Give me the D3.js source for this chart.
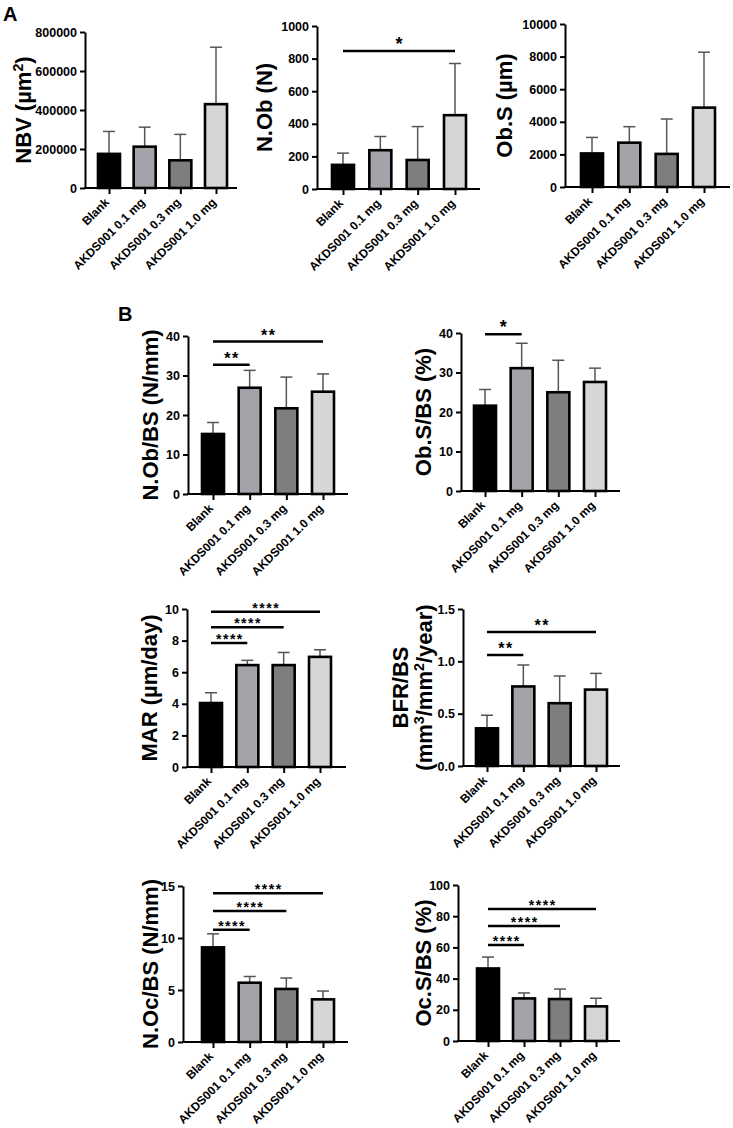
<!DOCTYPE html>
<html>
<head>
<meta charset="utf-8">
<script src="https://cdn.jsdelivr.net/npm/d3@7"></script>
<style>
  html, body { margin: 0; padding: 0; background: #fff; }
  svg { display: block; }
  text { font-family: "Liberation Sans", Arial, sans-serif; font-weight: bold; fill: #000; }
</style>
</head>
<body>
<svg id="fig" width="733" height="1128"></svg>
<script>
// ---------- data ----------
const groups = ["Blank", "AKDS001 0.1 mg", "AKDS001 0.3 mg", "AKDS001 1.0 mg"];
const groupColors = ["#000000", "#a3a3aa", "#7e7e7e", "#d6d6d6"];

const nbvMean = [175000, 212000, 142000, 430000];
const nbvSD   = [115000, 100000, 133000, 292000];
const nbvTicks = [0, 200000, 400000, 600000, 800000];
const nbvSig = [];

const nobMean = [148, 238, 178, 453];
const nobSD   = [72, 84, 205, 317];
const nobTicks = [0, 200, 400, 600, 800, 1000];
const nobSig = [[0, 3, 847, "*"]];

const obsMean = [2060, 2720, 2030, 4870];
const obsSD   = [980, 980, 2140, 3400];
const obsTicks = [0, 2000, 4000, 6000, 8000, 10000];
const obsSig = [];

const nobbsMean = [15.2, 26.9, 21.7, 25.9];
const nobbsSD   = [2.9, 4.4, 7.9, 4.5];
const nobbsTicks = [0, 10, 20, 30, 40];
const nobbsSig = [[0, 1, 32.7, "**"], [0, 3, 38.6, "**"]];

const obsbsMean = [21.6, 31.1, 25.0, 27.6];
const obsbsSD   = [4.1, 6.3, 8.1, 3.5];
const obsbsTicks = [0, 10, 20, 30, 40];
const obsbsSig = [[0, 1, 39.7, "*"]];

const marMean = [4.05, 6.45, 6.45, 6.97];
const marSD   = [0.65, 0.30, 0.80, 0.45];
const marTicks = [0, 2, 4, 6, 8, 10];
const marSig = [[0, 1, 7.85, "****"], [0, 2, 8.85, "****"], [0, 3, 9.82, "****"]];

const bfrMean = [0.36, 0.76, 0.60, 0.73];
const bfrSD   = [0.125, 0.205, 0.26, 0.155];
const bfrTicks = [0, 0.5, 1.0, 1.5];
const bfrSig = [[0, 1, 1.06, "**"], [0, 3, 1.28, "**"]];

const nocMean = [9.1, 5.7, 5.1, 4.1];
const nocSD   = [1.3, 0.6, 1.05, 0.8];
const nocTicks = [0, 5, 10, 15];
const nocSig = [[0, 1, 10.8, "****"], [0, 2, 12.6, "****"], [0, 3, 14.3, "****"]];

const ocsMean = [46.5, 27.3, 26.9, 22.2];
const ocsSD   = [7.3, 3.5, 6.4, 5.2];
const ocsTicks = [0, 20, 40, 60, 80, 100];
const ocsSig = [[0, 1, 61.5, "****"], [0, 2, 73.7, "****"], [0, 3, 84.6, "****"]];

// ---------- layout ----------
const charts = [
  { mean: nbvMean, sd: nbvSD, ticks: nbvTicks, sig: nbvSig, title: ["NBV (µm^2)"], fmt: "d",
    left: 85, right: 237, top: 32, zero: 188, padL: 24, padR: 21, titleX: [31] },
  { mean: nobMean, sd: nobSD, ticks: nobTicks, sig: nobSig, title: ["N.Ob (N)"], fmt: "d",
    left: 317, right: 480, top: 26, zero: 189, padL: 26, padR: 25, titleX: [272] },
  { mean: obsMean, sd: obsSD, ticks: obsTicks, sig: obsSig, title: ["Ob.S (µm)"], fmt: "d",
    left: 565, right: 730, top: 24, zero: 187, padL: 27, padR: 26, titleX: [512] },
  { mean: nobbsMean, sd: nobbsSD, ticks: nobbsTicks, sig: nobbsSig, title: ["N.Ob/BS (N/mm)"], fmt: "d",
    left: 188, right: 348, top: 336, zero: 494, padL: 25, padR: 25, titleX: [158] },
  { mean: obsbsMean, sd: obsbsSD, ticks: obsbsTicks, sig: obsbsSig, title: ["Ob.S/BS (%)"], fmt: "d",
    left: 461, right: 620, top: 333, zero: 491, padL: 24, padR: 25, titleX: [431] },
  { mean: marMean, sd: marSD, ticks: marTicks, sig: marSig, title: ["MAR (µm/day)"], fmt: "d",
    left: 187, right: 346, top: 609, zero: 767, padL: 24, padR: 26, titleX: [157] },
  { mean: bfrMean, sd: bfrSD, ticks: bfrTicks, sig: bfrSig, title: ["BFR/BS", "(mm^3/mm^2/year)"], fmt: ".1f",
    left: 463, right: 620, top: 609, zero: 766, padL: 24, padR: 24, titleX: [408, 432] },
  { mean: nocMean, sd: nocSD, ticks: nocTicks, sig: nocSig, title: ["N.Oc/BS (N/mm)"], fmt: "d",
    left: 183, right: 348, top: 886, zero: 1042, padL: 30, padR: 25, titleX: [158] },
  { mean: ocsMean, sd: ocsSD, ticks: ocsTicks, sig: ocsSig, title: ["Oc.S/BS (%)"], fmt: "d",
    left: 458, right: 620, top: 885, zero: 1041, padL: 30, padR: 24, titleX: [431] }
];

const svg = d3.select("#fig");

svg.append("text").attr("x", 3).attr("y", 21).attr("font-size", 20).text("A");
svg.append("text").attr("x", 118).attr("y", 321).attr("font-size", 20).text("B");

function addTitleText(sel, str) {
  const parts = str.split(/\^(\d)/);
  let shiftBack = false;
  parts.forEach((p, i) => {
    if (p === "") return;
    if (i % 2 === 1) {
      sel.append("tspan").attr("font-size", "65%").attr("dy", "-0.55em").text(p);
      shiftBack = true;
    } else {
      const t = sel.append("tspan").text(p);
      if (shiftBack) { t.attr("dy", "0.36em"); shiftBack = false; }
    }
  });
}

charts.forEach(c => {
  const g = svg.append("g");
  const yMax = c.ticks[c.ticks.length - 1];
  const y = d3.scaleLinear().domain([0, yMax]).range([c.zero, c.top]);
  const x = d3.scalePoint().domain(groups).range([c.left + c.padL, c.right - c.padR]);
  const bw = 22, cap = 12;

  // y axis
  const yAxis = d3.axisLeft(y).tickValues(c.ticks).tickSize(5).tickSizeOuter(0)
    .tickPadding(3).tickFormat(d3.format(c.fmt));
  const ya = g.append("g").attr("transform", `translate(${c.left},0)`).call(yAxis);
  ya.select(".domain").attr("stroke", "#000").attr("stroke-width", 2);
  ya.selectAll(".tick line").attr("stroke", "#000").attr("stroke-width", 2);
  ya.selectAll(".tick text").attr("font-size", 12.5).attr("font-family", null)
    .style("font-family", "'Liberation Sans', Arial, sans-serif").style("font-weight", "bold");

  // x axis
  const xAxis = d3.axisBottom(x).tickSize(6).tickSizeOuter(0).tickFormat("");
  const xa = g.append("g").attr("transform", `translate(0,${c.zero})`).call(xAxis);
  xa.select(".domain").remove();
  xa.selectAll(".tick line").attr("stroke", "#000").attr("stroke-width", 2);
  g.append("line").attr("x1", c.left - 1).attr("x2", c.right).attr("y1", c.zero).attr("y2", c.zero)
    .attr("stroke", "#000").attr("stroke-width", 2);

  // x labels
  g.selectAll(".xl").data(groups).join("text")
    .attr("class", "xl")
    .attr("font-size", 12)
    .attr("text-anchor", "end")
    .attr("transform", d => `translate(${x(d) + 1},${c.zero + 15}) rotate(-45)`)
    .text(d => d);

  // error bars
  const err = g.selectAll(".err").data(groups).join("g").attr("class", "err");
  err.append("line")
    .attr("x1", d => x(d)).attr("x2", d => x(d))
    .attr("y1", (d, i) => y(c.mean[i])).attr("y2", (d, i) => y(c.mean[i] + c.sd[i]))
    .attr("stroke", "#555").attr("stroke-width", 1.5);
  err.append("line")
    .attr("x1", d => x(d) - cap / 2).attr("x2", d => x(d) + cap / 2)
    .attr("y1", (d, i) => y(c.mean[i] + c.sd[i])).attr("y2", (d, i) => y(c.mean[i] + c.sd[i]))
    .attr("stroke", "#555").attr("stroke-width", 1.5);

  // bars
  g.selectAll(".bar").data(groups).join("rect")
    .attr("class", "bar")
    .attr("x", d => x(d) - bw / 2)
    .attr("width", bw)
    .attr("y", (d, i) => y(c.mean[i]))
    .attr("height", (d, i) => c.zero - y(c.mean[i]))
    .attr("fill", (d, i) => groupColors[i])
    .attr("stroke", "#000").attr("stroke-width", 2.6);

  // significance
  c.sig.forEach(s => {
    const x1 = x(groups[s[0]]), x2 = x(groups[s[1]]), yy = y(s[2]);
    g.append("line").attr("x1", x1).attr("x2", x2).attr("y1", yy).attr("y2", yy)
      .attr("stroke", "#000").attr("stroke-width", 2.5);
    const n = s[3].length;
    const fs = n === 1 ? 18 : (n === 2 ? 16 : 14);
    const ls = n === 1 ? 0 : 1.5;
    g.append("text")
      .attr("x", (x1 + x2) / 2 + ls / 2).attr("y", yy - 1 + (n === 4 ? 2 : 0))
      .attr("text-anchor", "middle").attr("font-size", fs)
      .attr("letter-spacing", ls)
      .text(s[3]);
  });

  // y title
  const cy = (c.top + c.zero) / 2;
  c.title.forEach((t, i) => {
    const tt = g.append("text")
      .attr("font-size", 22)
      .attr("text-anchor", "middle")
      .attr("transform", `translate(${c.titleX[i]},${cy}) rotate(-90)`);
    addTitleText(tt, t);
  });
});
</script>
</body>
</html>
